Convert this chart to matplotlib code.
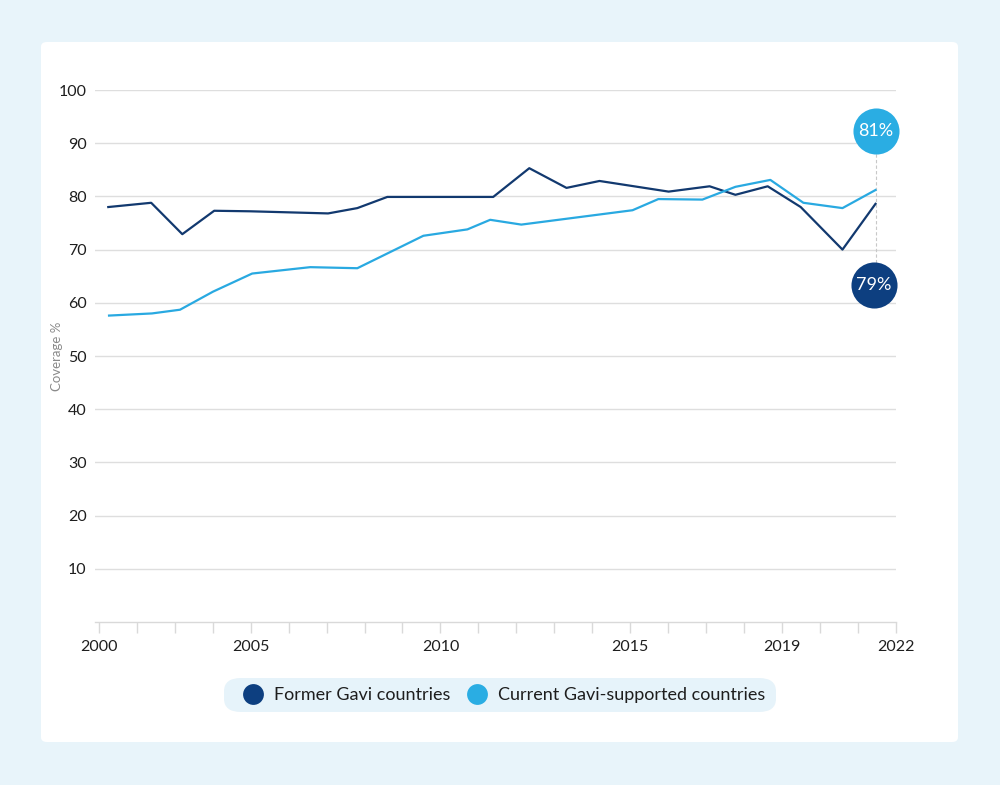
import matplotlib
matplotlib.use("Agg")
import matplotlib.pyplot as plt
from matplotlib.patches import FancyBboxPatch
from matplotlib.lines import Line2D

plt.rcParams["font.family"] = ["Lato", "DejaVu Sans"]

# ===================== DATA =====================
# x is measured in axis slots (22 slots, labelled irregularly as in the source)
former_x = [0.25, 1.38, 2.20, 3.04, 3.99, 6.04, 6.81, 7.60, 10.39, 11.34, 12.32,
            13.19, 15.01, 16.09, 16.77, 17.62, 18.49, 19.59, 20.46]
former_y = [78.0, 78.8, 72.9, 77.3, 77.2, 76.8, 77.8, 79.9, 79.9, 85.3, 81.6,
            82.9, 80.9, 81.9, 80.3, 81.9, 78.0, 70.0, 78.6]

current_x = [0.27, 1.40, 2.14, 3.01, 4.04, 5.57, 6.81, 8.55, 9.71, 10.31, 11.13,
             14.06, 14.74, 15.90, 16.77, 17.69, 18.56, 19.59, 20.46]
current_y = [57.6, 58.0, 58.7, 62.1, 65.5, 66.7, 66.5, 72.6, 73.8, 75.6, 74.7,
             77.4, 79.5, 79.4, 81.8, 83.1, 78.8, 77.8, 81.2]

tick_slots = list(range(22))
label_slots = {0: "2000", 4: "2005", 9: "2010", 14: "2015", 18: "2019", 21: "2022"}
y_ticks = [10, 20, 30, 40, 50, 60, 70, 80, 90, 100]

labels = ["Former Gavi countries", "Current Gavi-supported countries"]
end_labels = ["79%", "81%"]

DARK = "#12396f"
LIGHT = "#29a9e1"
DARK_DOT = "#0d3f80"
LIGHT_DOT = "#2aade3"

# ===================== FIGURE =====================
fig = plt.figure(figsize=(10, 7.85), dpi=100)
fig.patch.set_facecolor("#e8f4fa")

card = FancyBboxPatch((41 / 1000, 1 - 742 / 785), 917 / 1000, 700 / 785,
                      boxstyle="round,pad=0,rounding_size=0.006",
                      transform=fig.transFigure, facecolor="white",
                      edgecolor="none", zorder=-2)
fig.patches.append(card)

ax = fig.add_axes([95 / 1000, 1 - 622 / 785, 801 / 1000, 532 / 785])
ax.set_facecolor("none")
ax.set_xlim(-0.1, 21.0)
ax.set_ylim(0, 100)

for s in ["top", "right", "left"]:
    ax.spines[s].set_visible(False)
ax.spines["bottom"].set_color("#d9d9d9")
ax.spines["bottom"].set_linewidth(1)

ax.set_yticks(y_ticks)
ax.set_yticklabels([str(v) for v in y_ticks], fontsize=11.5, color="#1e1e1e")
ax.tick_params(axis="y", length=0, pad=6)
ax.yaxis.grid(True, color="#dedede", linewidth=1)
ax.set_axisbelow(True)

ax.set_xticks(tick_slots)
ax.set_xticklabels([label_slots.get(i, "") for i in tick_slots],
                   fontsize=11.5, color="#1e1e1e")
ax.tick_params(axis="x", length=8, color="#d9d9d9", width=1, pad=5)

ax.set_ylabel("Coverage %", fontsize=9.5, color="#8a8a8a")
ax.yaxis.set_label_coords(-0.04, 0.5)

ax.plot(former_x, former_y, color=DARK, linewidth=1.6, zorder=3)
ax.plot(current_x, current_y, color=LIGHT, linewidth=1.6, zorder=3)

# end-point callouts
ax.plot([former_x[-1], former_x[-1]], [63.3, 92.3], color="#c8c8c8",
        linewidth=0.8, linestyle=(0, (3, 2)), zorder=2, clip_on=False)
ax.scatter([current_x[-1]], [92.3], s=1100, color=LIGHT_DOT, zorder=5,
           clip_on=False, linewidths=0)
ax.scatter([former_x[-1] - 0.05], [63.3], s=1100, color=DARK_DOT, zorder=5,
           clip_on=False, linewidths=0)
ax.text(current_x[-1], 92.3, end_labels[1], color="white", fontsize=13,
        ha="center", va="center", zorder=6)
ax.text(former_x[-1] - 0.05, 63.3, end_labels[0], color="white", fontsize=13,
        ha="center", va="center", zorder=6)

# legend
pill = FancyBboxPatch((224 / 1000, 1 - 712 / 785), 552 / 1000, 34 / 785,
                      boxstyle="round,pad=0,rounding_size=0.017",
                      transform=fig.transFigure, facecolor="#e6f3fa",
                      edgecolor="none", zorder=-1)
fig.patches.append(pill)

handles = [
    Line2D([], [], marker="o", linestyle="none", markersize=15,
           markerfacecolor=DARK_DOT, markeredgewidth=0),
    Line2D([], [], marker="o", linestyle="none", markersize=15,
           markerfacecolor=LIGHT_DOT, markeredgewidth=0),
]
fig.legend(handles, labels, loc="center", bbox_to_anchor=(0.5, 1 - 695 / 785),
           ncol=2, frameon=False, fontsize=13, handletextpad=0.15,
           columnspacing=0.5, labelcolor="#1e1e1e")

fig.savefig("out.png", dpi=100, facecolor=fig.get_facecolor())
